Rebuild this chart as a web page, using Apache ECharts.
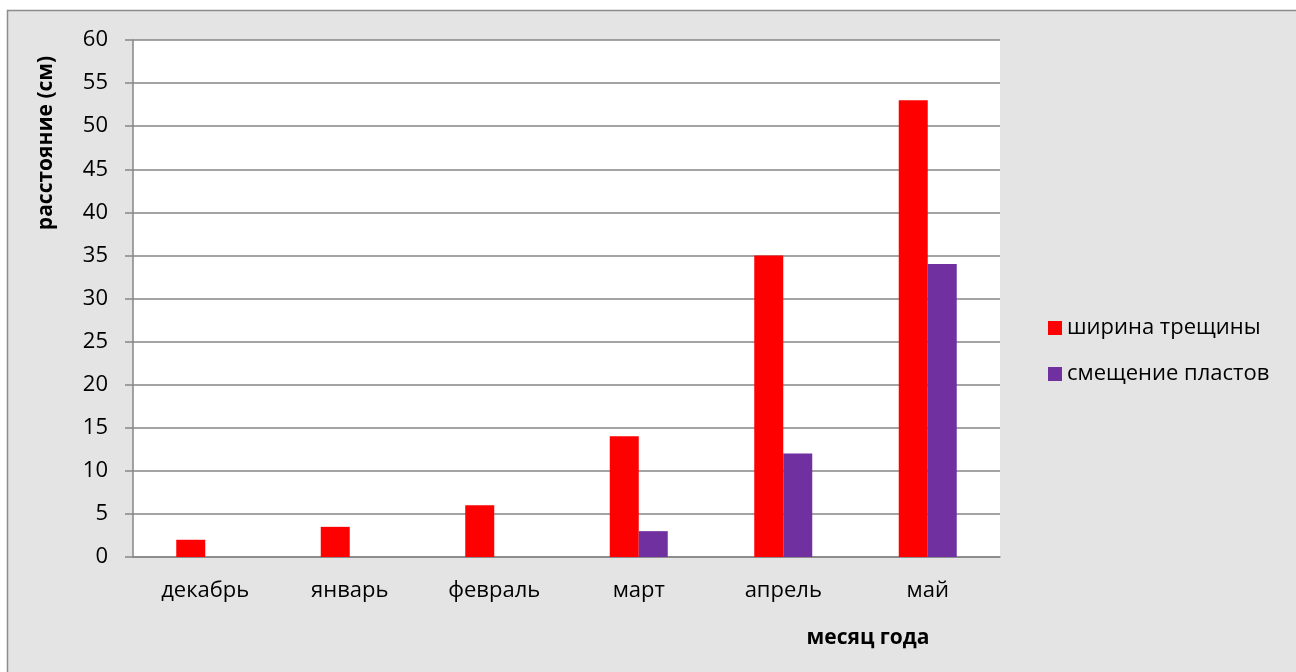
<!DOCTYPE html>
<html><head><meta charset="utf-8">
<script src="https://cdn.jsdelivr.net/npm/echarts@6/dist/echarts.min.js"></script>
<style>html,body{margin:0;padding:0;background:#fff}#c{width:1296px;height:672px}</style>
</head><body><div id="c"></div>
<script>
const categories = ['декабрь','январь','февраль','март','апрель','май'];
const crackWidth = [2, 3.5, 6, 14, 35, 53];
const layerShift = [0, 0, 0, 3, 12, 34];
const seriesNames = ['ширина трещины','смещение пластов'];
const FONT = 'Open Sans';
const chart = echarts.init(document.getElementById('c'));
chart.setOption({
  backgroundColor: '#e4e4e4',
  animation: false,
  textStyle: {fontFamily: FONT},
  graphic: [
    {type:'rect', shape:{x:0,y:0,width:1296,height:10}, style:{fill:'#fff'}, silent:true},
    {type:'rect', shape:{x:0,y:0,width:7,height:672}, style:{fill:'#fff'}, silent:true},
    {type:'polyline', shape:{points:[[7.5,672],[7.5,10.5],[1296,10.5]]}, style:{stroke:'#8c8c8c', lineWidth:1.5, fill:null}, silent:true},
    {type:'text', x:46, y:143, rotation:Math.PI/2, style:{text:'расстояние (см)', font:'bold 21px "'+FONT+'"', fill:'#000', textAlign:'center', textVerticalAlign:'middle'}},
    {type:'text', x:868, y:638, style:{text:'месяц года', font:'bold 21px "'+FONT+'"', fill:'#000', textAlign:'center', textVerticalAlign:'middle'}}
  ],
  legend: {
    orient: 'vertical', left: 1043, top: 312, itemGap: 24, itemWidth: 14, itemHeight: 14,
    icon: 'rect', textStyle: {fontSize: 22, lineHeight: 22, color: '#000', fontFamily: FONT}, itemStyle:{borderWidth:0},
    data: seriesNames
  },
  grid: {left: 133, right: 296, top: 40, bottom: 115, show: true, backgroundColor: '#fff', borderWidth: 0},
  xAxis: {
    type: 'category', data: categories,
    axisLine: {lineStyle: {color: '#868686', width: 1.5}},
    axisTick: {show: false},
    axisLabel: {color: '#000', fontSize: 22, margin: 23}
  },
  yAxis: {
    type: 'value', min: 0, max: 60, interval: 5,
    axisLine: {show: true, lineStyle: {color: '#868686', width: 1.5}},
    axisTick: {show: true, length: 8, lineStyle: {color: '#868686', width: 1.5}},
    splitLine: {lineStyle: {color: '#868686', width: 1.5}},
    axisLabel: {color: '#000', fontSize: 22, margin: 25}
  },
  series: [
    {name: seriesNames[0], type: 'bar', data: crackWidth, barWidth: 29, barGap: '0%', itemStyle: {color: '#ff0000'}},
    {name: seriesNames[1], type: 'bar', data: layerShift, barWidth: 29, itemStyle: {color: '#7030a0'}}
  ]
});
</script></body></html>
